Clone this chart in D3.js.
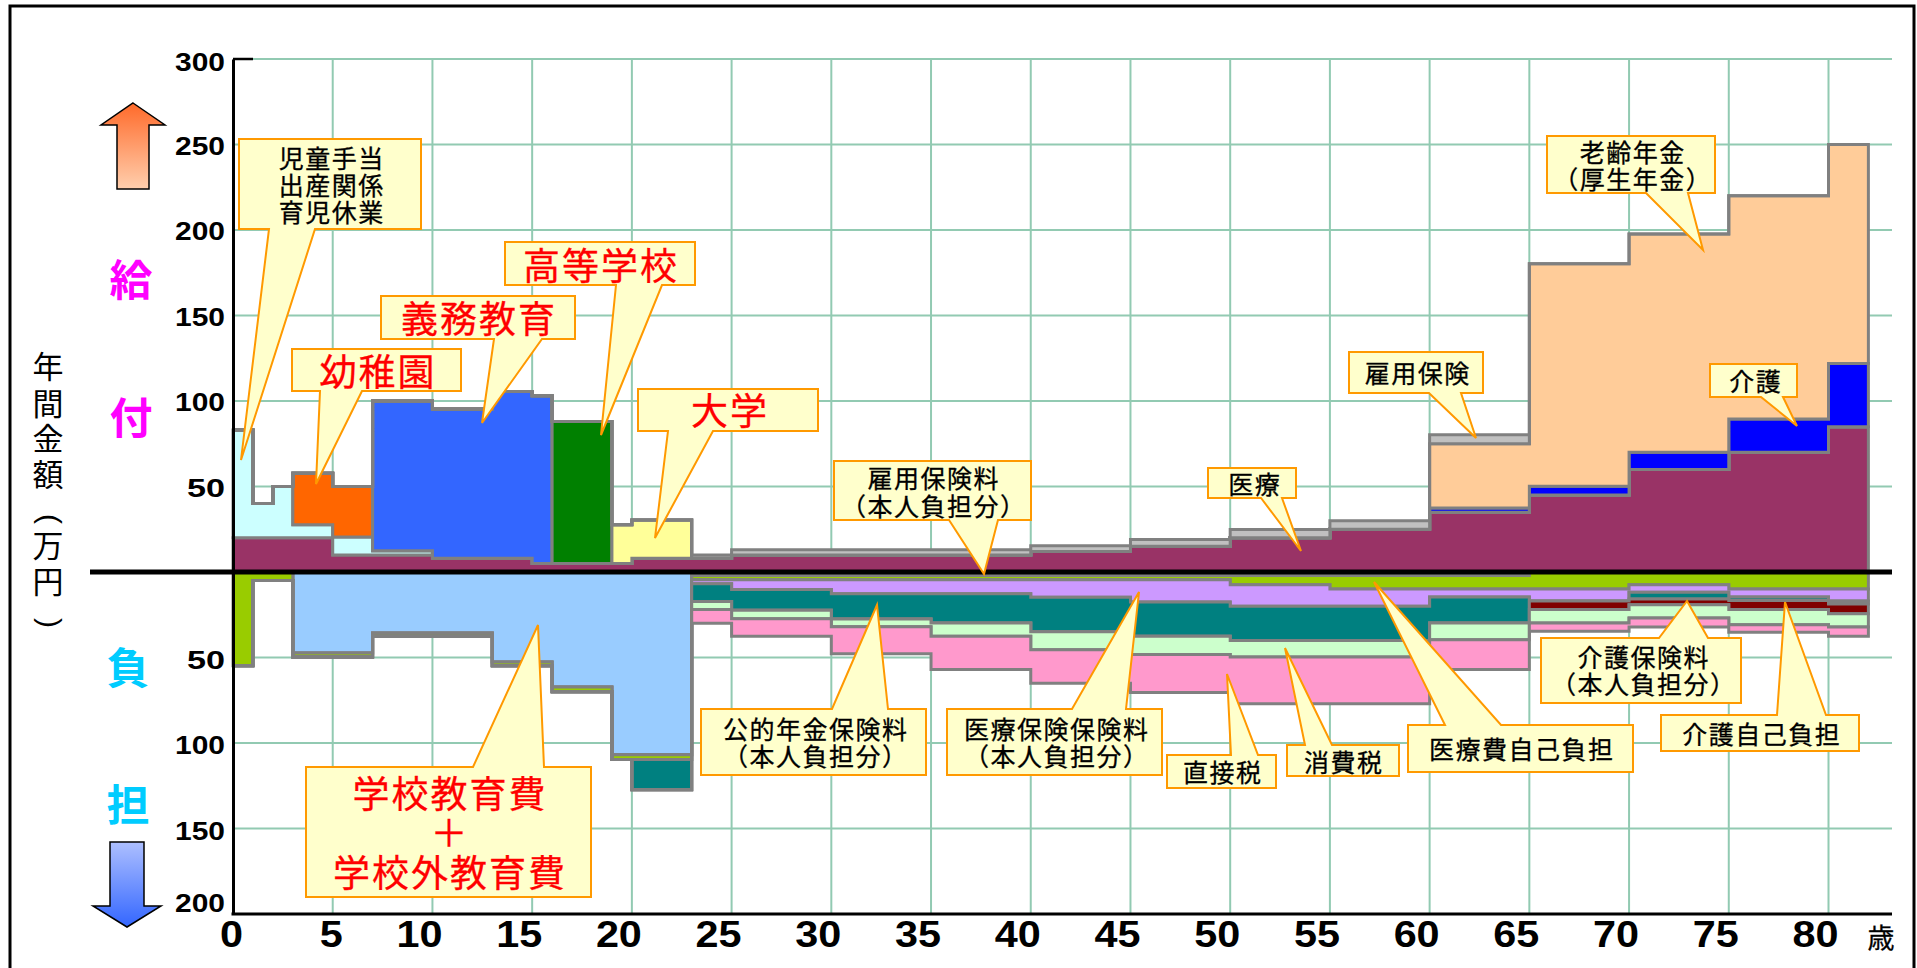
<!DOCTYPE html>
<html lang="ja">
<head>
<meta charset="utf-8">
<title>年齢別の給付と負担</title>
<script src="https://cdn.jsdelivr.net/npm/d3@7"></script>
<style>
html,body{margin:0;padding:0;background:#fff;overflow:hidden}
svg{display:block}
text{font-family:"Noto Sans CJK JP","Noto Sans",sans-serif}
.num text,text.num{font-family:"Liberation Sans",Arial,sans-serif;font-weight:700}
</style>
</head>
<body>
<svg id="chart" width="1917" height="968"></svg>
<script>
// age boundaries of each step (25 steps, 0–82 years)
const ageBreaks = [0,1,2,3,5,7,10,13,15,16,19,20,23,25,30,35,40,45,50,55,60,65,70,75,80,82];
const ageTicks = [0,5,10,15,20,25,30,35,40,45,50,55,60,65,70,75,80];
const amountTicks = [-200,-150,-100,-50,50,100,150,200,250,300];

// 給付 (benefits, 万円 per year), stacked upward
const iryou    = [20,20,20,20,10,10,8,8,5,5,5,8,8,10,10,10,12,15,20,25,35,45,60,70,85];
const jidou    = [63,20,30,7.7,10.4,2.5,0,0,0,0,0,0,0,0,0,0,0,0,0,0,0,0,0,0,0];
const youchien = [0,0,0,30,29.6,0,0,0,0,0,0,0,0,0,0,0,0,0,0,0,0,0,0,0,0];
const gimu     = [0,0,0,0,0,87.5,87.3,97.6,98,0,0,0,0,0,0,0,0,0,0,0,0,0,0,0,0];
const koukou   = [0,0,0,0,0,0,0,0,0,83,0,0,0,0,0,0,0,0,0,0,0,0,0,0,0];
const daigaku  = [0,0,0,0,0,0,0,0,0,0,22.7,22.4,0,0,0,0,0,0,0,0,0,0,0,0,0];
const kaigo    = [0,0,0,0,0,0,0,0,0,0,0,0,0,0,0,0,0,0,0,0,2.4,5.2,10,19.5,37];
const nenkin   = [0,0,0,0,0,0,0,0,0,0,0,0,0,0,0,0,0,0,0,0,37.6,130,127.7,130.5,128];
const koyou    = [0,0,0,0,0,0,0,0,0,0,0,0,2,3,3,3,3.4,4,4.8,5,5.3,0,0,0,0];

// 負担 (burdens, 万円 per year), stacked downward
const kyouiku    = [0,0,0,47.4,47.4,35.7,35.7,52.6,52.6,67.3,106.8,106.8,0,0,0,0,0,0,0,0,0,0,0,0,0];
const koyouRyou  = [0,0,0,0,0,0,0,0,0,0,0,0,2,2,2,2,2,2,2,2,2,0,0,0,0];
const jikoIryou  = [54.8,4.9,4.9,2.3,2.3,1.9,1.9,2.2,2.2,2.7,2.9,2.9,2.5,2.5,2.5,2.5,2.5,2.5,5.4,8,8,10,7.4,10,10];
const iryouRyou  = [0,0,0,0,0,0,0,0,0,0,0,0,2.3,5.8,8.2,8.2,10.3,13,12.6,10,4.6,7,4.5,4.6,7];
const nenkinRyou = [0,0,0,0,0,0,0,0,0,0,0,17.6,10.4,12.1,14.8,17.1,20.2,20.1,20,20,15.2,0,3.9,2,1.7];
const kaigoRyou  = [0,0,0,0,0,0,0,0,0,0,0,0,0,0,0,0,0,0,0,0,0,5,3.3,5.4,5.7];
const shouhi     = [0,0,0,0,0,0,0,0,0,0,0,0,4.8,4.9,4.5,7.8,10.4,10.7,9.7,9.7,9.8,7.8,7.8,8.8,7.8];
const chokusetsu = [0,0,0,0,0,0,0,0,0,0,0,0,8,10.3,15.8,19.4,19.6,22.1,27.3,27.3,17.4,4.9,5.3,4.5,5.4];

const upperSeries = [
  ["医療",iryou,"#993366"],["児童手当",jidou,"#CCFFFF"],["幼稚園",youchien,"#FF6600"],
  ["義務教育",gimu,"#3366FF"],["高等学校",koukou,"#008000"],["大学",daigaku,"#FFFF99"],
  ["介護",kaigo,"#0000FF"],["老齢年金",nenkin,"#FFCC99"],["雇用保険",koyou,"#C0C0C0"]
];
const lowerSeries = [
  ["学校教育費",kyouiku,"#99CCFF"],["雇用保険料",koyouRyou,"#008080"],["医療費自己負担",jikoIryou,"#99CC00"],
  ["医療保険保険料",iryouRyou,"#CC99FF"],["公的年金保険料",nenkinRyou,"#008080"],["介護保険料",kaigoRyou,"#800000"],
  ["消費税",shouhi,"#CCFFCC"],["直接税",chokusetsu,"#FF99CC"]
];

const W = 1917, H = 968;
const svg = d3.select("#chart");
const x = d3.scaleLinear().domain([0,80]).range([233,1828.5]);
const y = d3.scaleLinear().domain([-200,300]).range([914,59]);
const rightEnd = 1892;

// defs
const defs = svg.append("defs");
const g1 = defs.append("linearGradient").attr("id","upGrad").attr("x1",0).attr("y1",0).attr("x2",0).attr("y2",1);
g1.append("stop").attr("offset",0).attr("stop-color","#FF6A2A");
g1.append("stop").attr("offset",1).attr("stop-color","#FFCFAE");
const g2 = defs.append("linearGradient").attr("id","downGrad").attr("x1",0).attr("y1",0).attr("x2",0).attr("y2",1);
g2.append("stop").attr("offset",0).attr("stop-color","#ADBFFF");
g2.append("stop").attr("offset",1).attr("stop-color","#3366FF");

// frame
svg.append("path").attr("d",`M10,${H}V6H1914V${H}`).attr("fill","none").attr("stroke","#000").attr("stroke-width",3);

// grid
const gridColor = "#92CAB2";
svg.append("g").selectAll("line").data(ageTicks.filter(d=>d>0)).join("line")
  .attr("x1",d=>x(d)).attr("x2",d=>x(d)).attr("y1",y(300)).attr("y2",y(-200))
  .attr("stroke",gridColor).attr("stroke-width",2);
svg.append("g").selectAll("line").data(amountTicks).join("line")
  .attr("x1",x(0)).attr("x2",rightEnd).attr("y1",d=>y(d)).attr("y2",d=>y(d))
  .attr("stroke",gridColor).attr("stroke-width",2);

// stacked step areas
function drawStack(series, sign){
  const rows = ageBreaks.map((age,i)=>{
    const r = {age};
    const k = Math.min(i, ageBreaks.length-2);
    series.forEach(s=>{ r[s[0]] = s[1][k]; });
    return r;
  });
  const stacked = d3.stack().keys(series.map(s=>s[0]))(rows);
  const area = d3.area().curve(d3.curveStepAfter)
    .x(d=>x(d.data.age)).y0(d=>y(sign*d[0])).y1(d=>y(sign*d[1]));
  svg.append("g").selectAll("path").data(stacked).join("path")
    .attr("d",area)
    .attr("fill",(d,i)=>series[i][2])
    .attr("stroke","#808080").attr("stroke-width",3).attr("stroke-linejoin","miter");
}
drawStack(lowerSeries,-1);
drawStack(upperSeries,1);

// axes
const axisLeft = d3.axisLeft(y).tickValues(amountTicks).tickSize(0).tickPadding(8)
  .tickFormat(d=>Math.abs(d));
const ga = svg.append("g").attr("class","num").attr("transform",`translate(${x(0)},0)`).call(axisLeft);
ga.select(".domain").attr("stroke","#000").attr("stroke-width",3);
ga.selectAll("text").attr("font-size",25).attr("fill","#000")
  .attr("textLength",d=>String(Math.abs(d)).length===3?50:38).attr("lengthAdjust","spacingAndGlyphs")
  .attr("dy",d=>d===-200?"-0.12em":d===300?"0.47em":d<0?"0.42em":"0.38em");

const axisBottom = d3.axisBottom(x).tickValues(ageTicks).tickSize(0).tickPadding(7)
  .tickFormat(d=>d);
const gb = svg.append("g").attr("class","num").attr("transform",`translate(0,${y(-200)})`).call(axisBottom);
gb.select(".domain").remove();
gb.selectAll("text").attr("font-size",37).attr("fill","#000")
  .attr("textLength",d=>String(d).length*23).attr("lengthAdjust","spacingAndGlyphs")
  .attr("dx",d=>d<10?-2:-13.5);
svg.append("line").attr("x1",x(0)-1.5).attr("x2",rightEnd).attr("y1",y(-200)).attr("y2",y(-200))
  .attr("stroke","#000").attr("stroke-width",3);
svg.append("line").attr("x1",x(0)).attr("x2",253).attr("y1",y(300)).attr("y2",y(300))
  .attr("stroke","#000").attr("stroke-width",2.5);
svg.append("line").attr("x1",90).attr("x2",rightEnd).attr("y1",y(0)).attr("y2",y(0))
  .attr("stroke","#000").attr("stroke-width",5);
svg.append("text").attr("x",1881).attr("y",948).attr("text-anchor","middle")
  .attr("font-size",27).attr("fill","#000").attr("stroke","#000").attr("stroke-width",0.3).text("歳");

// left labels
const axisChars = ["年","間","金","額","万","円"];
const axisCharY = [367,404,439,475,546,582];
svg.append("g").selectAll("text").data(axisChars).join("text")
  .attr("x",48).attr("y",(d,i)=>axisCharY[i]).attr("dy","0.36em")
  .attr("text-anchor","middle").attr("font-size",31).attr("fill","#000").text(d=>d);
const axisParens = ["(",")"];
const axisParenY = [519,623];
svg.append("g").selectAll("text").data(axisParens).join("text")
  .attr("class","paren").style("font-family","'Liberation Sans',sans-serif")
  .attr("transform",(d,i)=>`translate(50,${axisParenY[i]}) rotate(90)`)
  .attr("dy","0.34em").attr("text-anchor","middle").attr("font-size",30).attr("fill","#000").text(d=>d);
[["給",131,281,"#FF00FF"],["付",131,419,"#FF00FF"],["負",128,669,"#00CCFF"],["担",128,806,"#00CCFF"]].forEach(t=>{
  svg.append("text").attr("x",t[1]).attr("y",t[2]).attr("dy","0.36em").attr("text-anchor","middle")
    .attr("font-size",43).attr("font-weight",700).attr("fill",t[3]).text(t[0]);
});

// arrows
const arrowLine = d3.line();
svg.append("path").attr("d",arrowLine([[133,103],[165,125],[149,125],[149,189],[117,189],[117,125],[101,125]])+"Z")
  .attr("fill","url(#upGrad)").attr("stroke","#000").attr("stroke-width",1.5);
svg.append("path").attr("d",arrowLine([[110,842],[144,842],[144,906],[161,906],[127,927],[93,906],[110,906]])+"Z")
  .attr("fill","url(#downGrad)").attr("stroke","#000").attr("stroke-width",1.5);

// callouts: box [x0,y0,x1,y1], tail base [xa,xb], tip [x,y], text lines
const callouts = [
  {box:[239,139,421,229],tail:[269,315],tip:[241,460],lines:[["児童手当",159],["出産関係",186],["育児休業",213]],cx:331,size:25,sp:1.5,color:"#000"},
  {box:[292,349,461,391],tail:[320,362],tip:[316,484],lines:[["幼稚園",373]],cx:377,size:37,sp:2,color:"#FF0000"},
  {box:[381,296,575,339],tail:[494,542],tip:[482,423],lines:[["義務教育",320]],cx:478,size:37,sp:2,color:"#FF0000"},
  {box:[505,242,695,285],tail:[616,662],tip:[601,435],lines:[["高等学校",267]],cx:600,size:37,sp:2,color:"#FF0000"},
  {box:[638,389,818,431],tail:[668,713],tip:[655,538],lines:[["大学",412]],cx:729,size:37,sp:2,color:"#FF0000"},
  {box:[1547,136,1715,193],tail:[1646,1688],tip:[1703,250],lines:[["老齢年金",153],["（厚生年金）",180]],cx:1632,size:25,sp:1.5,color:"#000"},
  {box:[1349,352,1483,393],tail:[1429,1461],tip:[1476,438],lines:[["雇用保険",374]],cx:1417,size:25,sp:1.5,color:"#000"},
  {box:[1710,364,1797,397],tail:[1761,1783],tip:[1797,426],lines:[["介護",382]],cx:1755,size:25,sp:1.5,color:"#000"},
  {box:[1208,468,1296,498],tail:[1261,1282],tip:[1301,551],lines:[["医療",485]],cx:1254,size:25,sp:1.5,color:"#000"},
  {box:[834,461,1031,520],tail:[949,998],tip:[984,574],lines:[["雇用保険料",479],["（本人負担分）",507]],cx:933,size:25,sp:1.5,color:"#000"},
  {box:[701,709,926,775],tail:[832,888],tip:[877,605],lines:[["公的年金保険料",730],["（本人負担分）",757]],cx:815,size:25,sp:1.5,color:"#000"},
  {box:[947,709,1162,775],tail:[1072,1126],tip:[1139,592],lines:[["医療保険保険料",730],["（本人負担分）",757]],cx:1056,size:25,sp:1.5,color:"#000"},
  {box:[1167,755,1276,788],tail:[1231,1258],tip:[1227,674],lines:[["直接税",773]],cx:1222,size:25,sp:1.5,color:"#000"},
  {box:[1287,745,1399,776],tail:[1305,1332],tip:[1285,648],lines:[["消費税",763]],cx:1343,size:25,sp:1.5,color:"#000"},
  {box:[1408,725,1633,772],tail:[1445,1501],tip:[1374,582],lines:[["医療費自己負担",750]],cx:1521,size:25,sp:1.5,color:"#000"},
  {box:[1541,638,1741,703],tail:[1659,1708],tip:[1687,601],lines:[["介護保険料",658],["（本人負担分）",685]],cx:1643,size:25,sp:1.5,color:"#000"},
  {box:[1661,715,1859,751],tail:[1777,1826],tip:[1785,602],lines:[["介護自己負担",735]],cx:1761,size:25,sp:1.5,color:"#000"},
  {box:[306,767,591,897],tail:[473,544],tip:[538,625],lines:[["学校教育費",795],["＋",834],["学校外教育費",874]],cx:449,size:37,sp:2,color:"#FF0000"}
];
function calloutPath(c){
  const [x0,y0,x1,y1] = c.box, [a,b] = c.tail, [tx,ty] = c.tip;
  const pts = ty > y1
    ? [[x0,y0],[x1,y0],[x1,y1],[b,y1],[tx,ty],[a,y1],[x0,y1]]
    : [[x0,y0],[a,y0],[tx,ty],[b,y0],[x1,y0],[x1,y1],[x0,y1]];
  return arrowLine(pts)+"Z";
}
const cg = svg.append("g").selectAll("g").data(callouts).join("g");
cg.append("path").attr("d",calloutPath).attr("fill","#FFFFCC")
  .attr("stroke","#FF9900").attr("stroke-width",2).attr("stroke-linejoin","miter");
cg.each(function(c){
  const t = d3.select(this).append("text").attr("text-anchor","middle")
    .attr("font-size",c.size).attr("letter-spacing",c.sp).attr("fill",c.color)
    .attr("stroke",c.color).attr("stroke-width",0.3);
  t.selectAll("tspan").data(c.lines).join("tspan")
    .attr("x",c.cx+c.sp/2).attr("y",l=>l[1]).attr("dy","0.36em").text(l=>l[0]);
});
</script>
</body>
</html>
